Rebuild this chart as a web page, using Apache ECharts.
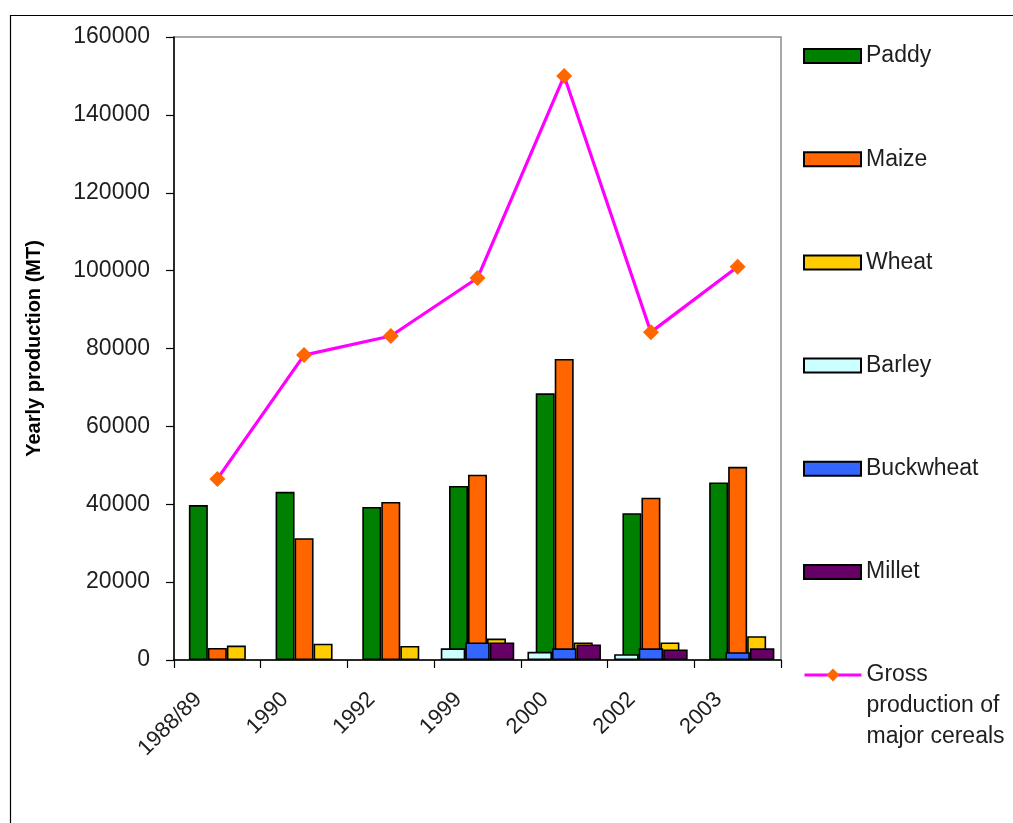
<!DOCTYPE html>
<html>
<head>
<meta charset="utf-8">
<title>Yearly production of major cereals</title>
<script src="https://cdn.jsdelivr.net/npm/echarts@6/dist/echarts.min.js"></script>
<style>
  html, body { margin: 0; padding: 0; background: #ffffff; }
  #chart { width: 1013px; height: 823px; }
</style>
</head>
<body>
<div id="chart"></div>
<script>
// Production by year (MT)
const years = ['1988/89', '1990', '1992', '1999', '2000', '2002', '2003'];
const paddy = [39800, 43200, 39300, 44700, 68500, 37700, 45600];
const maize = [3100, 31300, 40600, 47600, 77300, 41700, 49600];
const wheat = [3700, 4200, 3600, 5500, 4500, 4500, 6100];
const barley = [null, null, null, 3000, 2100, 1500, null];
const buckwheat = [null, null, null, 4500, 3000, 3000, 2000];
const millet = [null, null, null, 4500, 4000, 2700, 3000];
const gross = [46500, 78300, 83200, 98100, 150000, 84200, 101000];

const yTicks = { min: 0, max: 160000, step: 20000 };

const FONT = "'Liberation Sans', Arial, sans-serif";
const TEXT = '#1e1e1e';

function barSeries(name, data, color, axis, width) {
  return {
    name: name,
    type: 'bar',
    xAxisIndex: axis,
    data: data,
    barWidth: width,
    barGap: '0%',
    itemStyle: { color: color, borderColor: '#000000', borderWidth: 1.6 },
    emphasis: { disabled: true },
    animation: false
  };
}

const chart = echarts.init(document.getElementById('chart'), null, { renderer: 'canvas' });

chart.setOption({
  backgroundColor: '#ffffff',
  animation: false,
  grid: {
    left: 174, right: 232, top: 37, bottom: 163,
    show: true, borderColor: '#8c8c8c', borderWidth: 1.5,
    containLabel: false,
    outerBoundsMode: 'none'
  },
  graphic: [{
    type: 'polyline',
    shape: { points: [[10.5, 823], [10.5, 15.5], [1013, 15.5]] },
    style: { stroke: '#000000', lineWidth: 1.2, fill: null },
    silent: true
  }],
  legend: [{
    data: ['Paddy', 'Maize', 'Wheat', 'Barley', 'Buckwheat', 'Millet'],
    orient: 'vertical',
    left: 803, top: 44,
    padding: 0,
    icon: 'rect',
    itemWidth: 57, itemHeight: 14,
    itemGap: 79.2,
    textStyle: { fontFamily: FONT, fontSize: 23, color: TEXT, lineHeight: 24 },
    selectedMode: false
  }, {
    data: ['Gross production of major cereals'],
    orient: 'vertical',
    left: 803, top: 597.5,
    padding: 0,
    itemWidth: 57, itemHeight: 16,
    lineStyle: { width: 3, color: '#FF00FF' },
    // two leading blank lines keep the first line level with the icon
    formatter: function () { return '\n\nGross\nproduction of\nmajor cereals'; },
    textStyle: { fontFamily: FONT, fontSize: 23, color: TEXT, lineHeight: 31 },
    selectedMode: false
  }],
  xAxis: [{
    type: 'category',
    data: years,
    boundaryGap: true,
    axisLine: { show: true, lineStyle: { color: '#000000', width: 1.5 } },
    axisTick: { show: true, inside: false, length: 8, alignWithLabel: false, lineStyle: { color: '#000000', width: 1.2 } },
    axisLabel: {
      rotate: 45, margin: 17, interval: 0,
      formatter: function (v) { return '{t|' + v + '}'; },
      rich: { t: { fontFamily: FONT, fontSize: 22, color: TEXT, padding: [0, 27, 0, 0] } }
    },
    splitLine: { show: false }
  }, {
    type: 'category',
    data: years,
    boundaryGap: true,
    show: false
  }],
  yAxis: {
    type: 'value',
    min: yTicks.min, max: yTicks.max, interval: yTicks.step,
    name: 'Yearly production (MT)',
    nameLocation: 'middle',
    nameGap: 130,
    nameTextStyle: { fontFamily: FONT, fontSize: 20, fontWeight: 'bold', color: '#000000' },
    axisLine: { show: true, lineStyle: { color: '#000000', width: 1.5 } },
    axisTick: { show: true, inside: false, length: 8, lineStyle: { color: '#000000', width: 1.2 } },
    axisLabel: {
      margin: 24, fontFamily: FONT, fontSize: 23, color: TEXT,
      formatter: function (v) { return String(v); }
    },
    splitLine: { show: false }
  },
  series: [
    barSeries('Paddy', paddy, '#008000', 0, 19),
    barSeries('Maize', maize, '#FF6600', 0, 19),
    barSeries('Wheat', wheat, '#FFCC00', 0, 19),
    barSeries('Barley', barley, '#CCFFFF', 1, 24.5),
    barSeries('Buckwheat', buckwheat, '#3366FF', 1, 24.5),
    barSeries('Millet', millet, '#660066', 1, 24.5),
    {
      name: 'Gross production of major cereals',
      type: 'line',
      xAxisIndex: 0,
      data: gross,
      symbol: 'diamond',
      symbolSize: 16,
      showAllSymbol: true,
      lineStyle: { color: '#FF00FF', width: 3.2 },
      itemStyle: { color: '#FF6600', borderWidth: 0 },
      emphasis: { disabled: true },
      z: 5,
      animation: false
    }
  ]
});
</script>
</body>
</html>
